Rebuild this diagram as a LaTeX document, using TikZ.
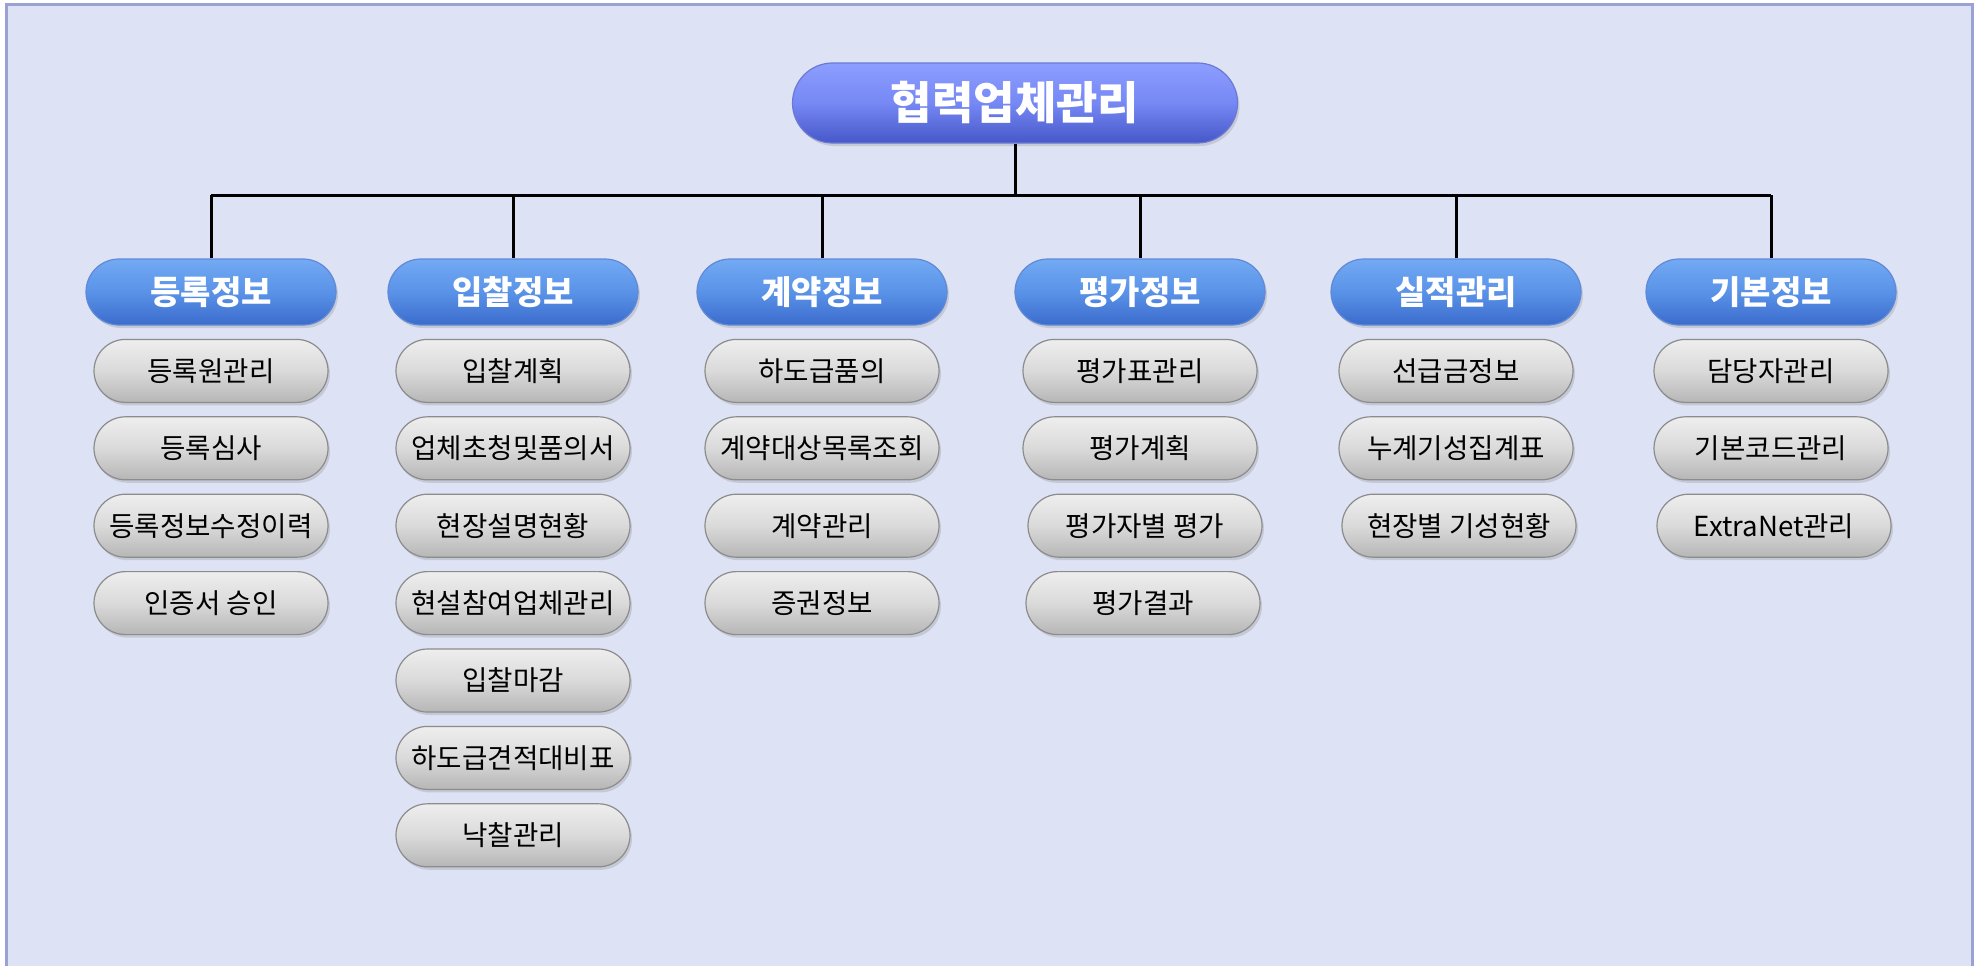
\documentclass[tikz,border=0pt]{standalone}
\usepackage{fontspec}
\setmainfont{Noto Sans CJK KR}
\usetikzlibrary{positioning,shadows}
\definecolor{pagebg}{HTML}{DDE2F4}
\definecolor{frameline}{HTML}{9AA2D4}
\definecolor{topT}{HTML}{8C9EFF}
\definecolor{topM}{HTML}{7688F4}
\definecolor{topB}{HTML}{4657C8}
\definecolor{catT}{HTML}{72AAF4}
\definecolor{catM}{HTML}{5A92E8}
\definecolor{catB}{HTML}{3A6CCC}
\definecolor{leafT}{HTML}{EEEEEE}
\definecolor{leafM}{HTML}{DADADA}
\definecolor{leafB}{HTML}{B6B6B6}

\begin{document}
\begin{tikzpicture}[x=0.5pt,y=-0.5pt,node distance=6.6pt,
  every node/.style={align=center,inner sep=0pt},
  topbox/.style={draw=topB!80,line width=0.6pt,top color=topT,bottom color=topB,middle color=topM,
    minimum width=222.5pt,minimum height=40pt,rounded corners=20pt,text=white,
    font=\fontsize{22.5}{26}\selectfont\bfseries,
    drop shadow={shadow xshift=1pt,shadow yshift=-1.5pt,opacity=0.25}},
  catbox/.style={draw=catB!80,line width=0.6pt,top color=catT,bottom color=catB,middle color=catM,
    minimum width=125pt,minimum height=33pt,rounded corners=16.5pt,text=white,
    font=\fontsize{16.5}{19}\selectfont\bfseries,
    drop shadow={shadow xshift=1pt,shadow yshift=-1.5pt,opacity=0.25}},
  leafbox/.style={draw=black!45,line width=0.6pt,top color=leafT,bottom color=leafB,middle color=leafM,
    minimum width=117pt,minimum height=31.5pt,rounded corners=15.75pt,
    font=\fontsize{13.8}{16}\selectfont,
    drop shadow={shadow xshift=1pt,shadow yshift=-1.5pt,opacity=0.25}},
  tree/.style={line width=1.5pt,black}]
\useasboundingbox (0,0) rectangle (1977,965);
\fill[white] (0,0) rectangle (1977,965);
\draw[frameline,fill=pagebg,line width=1.5pt] (6,4) rectangle (1972,1010);

% root and categories
\node[topbox] (root) at (1015,103) {협력업체관리};
\node[catbox] (reg) at (211,292) {등록정보};
\node[catbox] (bid) at (513,292) {입찰정보};
\node[catbox] (con) at (822,292) {계약정보};
\node[catbox] (eva) at (1140,292) {평가정보};
\node[catbox] (per) at (1456,292) {실적관리};
\node[catbox] (bas) at (1771,292) {기본정보};

% tree lines
\coordinate (bus) at (1015,195);
\draw[tree] (root.south) -- (root.south |- bus);
\draw[tree] (reg.north |- bus) -- (bas.north |- bus);
\draw[tree] (reg.north) -- (reg.north |- bus);\draw[tree] (bid.north) -- (bid.north |- bus);
\draw[tree] (con.north) -- (con.north |- bus);\draw[tree] (eva.north) -- (eva.north |- bus);
\draw[tree] (per.north) -- (per.north |- bus);\draw[tree] (bas.north) -- (bas.north |- bus);

% 등록정보
\node[leafbox,below=of reg] (reg1) {등록원관리};
\node[leafbox,below=of reg1] (reg2) {등록심사};
\node[leafbox,below=of reg2] (reg3) {등록정보수정이력};
\node[leafbox,below=of reg3] (reg4) {인증서 승인};
% 입찰정보
\node[leafbox,below=of bid] (bid1) {입찰계획};
\node[leafbox,below=of bid1] (bid2) {업체초청및품의서};
\node[leafbox,below=of bid2] (bid3) {현장설명현황};
\node[leafbox,below=of bid3] (bid4) {현설참여업체관리};
\node[leafbox,below=of bid4] (bid5) {입찰마감};
\node[leafbox,below=of bid5] (bid6) {하도급견적대비표};
\node[leafbox,below=of bid6] (bid7) {낙찰관리};
% 계약정보
\node[leafbox,below=of con] (con1) {하도급품의};
\node[leafbox,below=of con1] (con2) {계약대상목록조회};
\node[leafbox,below=of con2] (con3) {계약관리};
\node[leafbox,below=of con3] (con4) {증권정보};
% 평가정보
\node[leafbox,below=of eva] (eva1) {평가표관리};
\node[leafbox,below=of eva1] (eva2) {평가계획};
\node[leafbox,below=of eva2,xshift=2.5pt] (eva3) {평가자별 평가};
\node[leafbox,below=of eva3,xshift=-1pt] (eva4) {평가결과};
% 실적관리
\node[leafbox,below=of per] (per1) {선급금정보};
\node[leafbox,below=of per1] (per2) {누계기성집계표};
\node[leafbox,below=of per2,xshift=1.5pt] (per3) {현장별 기성현황};
% 기본정보
\node[leafbox,below=of bas] (bas1) {담당자관리};
\node[leafbox,below=of bas1] (bas2) {기본코드관리};
\node[leafbox,below=of bas2,xshift=1.5pt] (bas3) {ExtraNet관리};
\end{tikzpicture}
\end{document}
